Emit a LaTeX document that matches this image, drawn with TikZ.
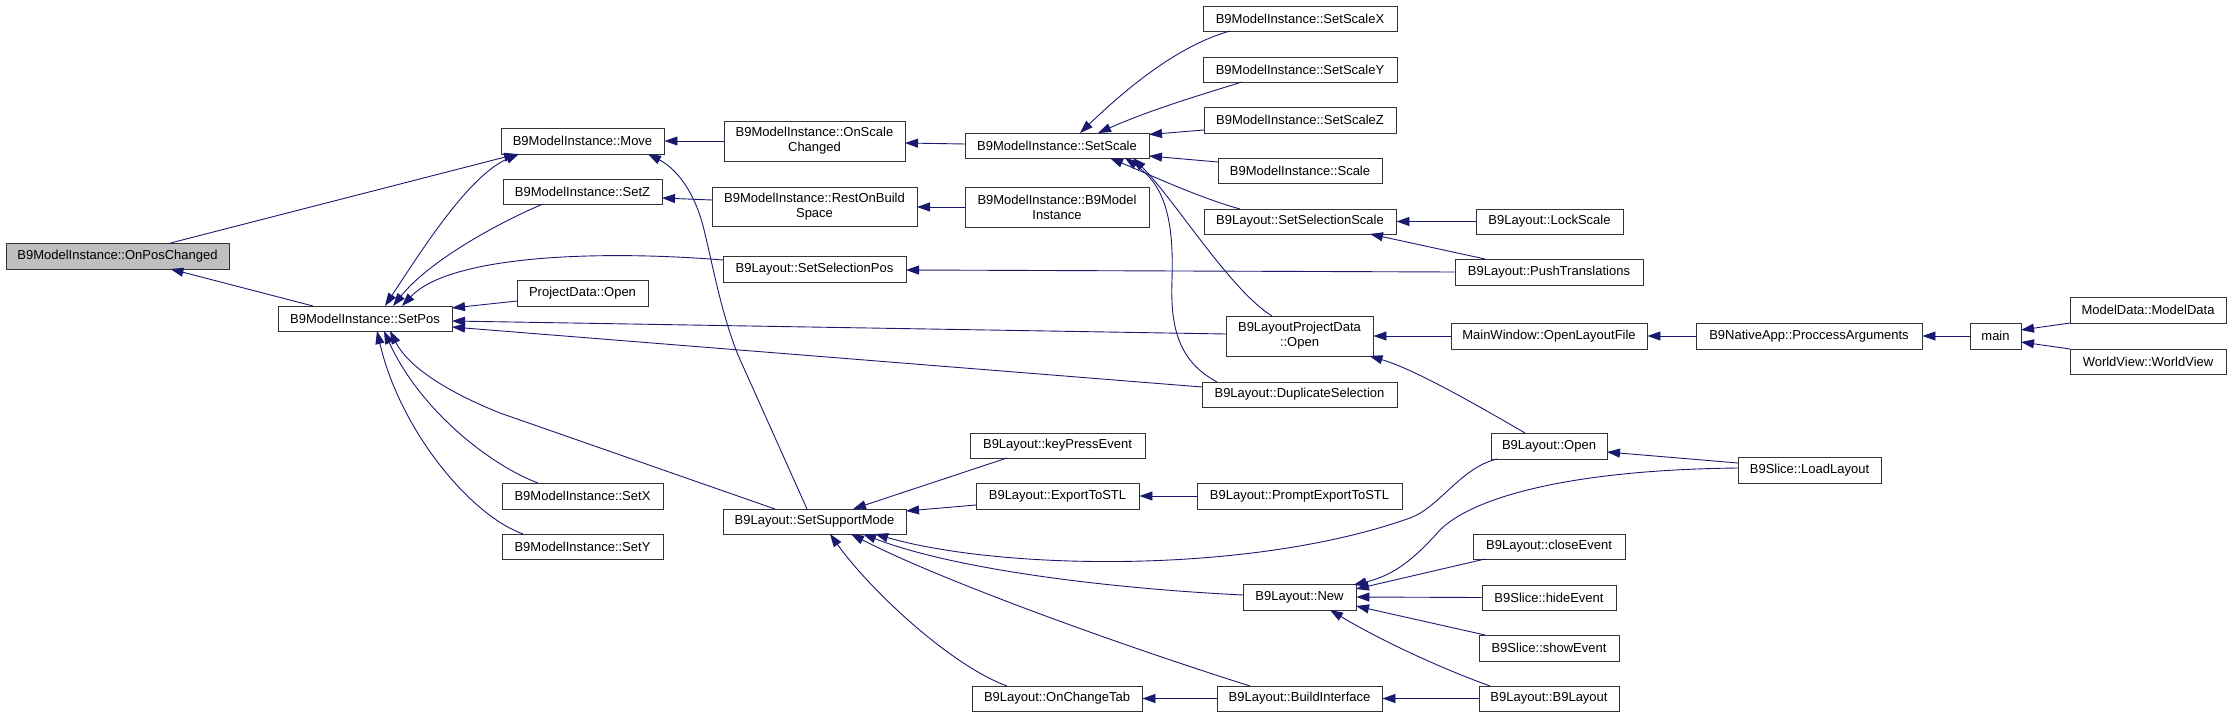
\documentclass[tikz,border=0pt]{standalone}
\usepackage{fontspec}
\setmainfont{Liberation Sans}
\usetikzlibrary{arrows.meta}
\definecolor{edgecol}{HTML}{191970}
\definecolor{grayfill}{HTML}{BFBFBF}
\begin{document}
\begin{tikzpicture}[x=1pt,y=-1pt,
  box/.style={draw=black!80, line width=0.9pt, fill=white, inner sep=0pt, align=center, font=\fontsize{13}{15}\selectfont},
  edge/.style={draw=edgecol, line width=0.9pt, -{Triangle[length=13pt,width=9pt]}},
  bedge/.style={draw=edgecol, line width=0.9pt, {Triangle[length=13pt,width=9pt]}-{Triangle[length=13pt,width=9pt]}}
]
\useasboundingbox (0,0) rectangle (2232,717);

% nodes
\node[box, fill=grayfill, minimum width=223, minimum height=26] (opc) at (117.5,256) {B9ModelInstance::OnPosChanged};
\node[box, minimum width=174, minimum height=25] (setpos) at (365,318.5) {B9ModelInstance::SetPos};
\node[box, minimum width=163, minimum height=26] (move) at (582.5,141) {B9ModelInstance::Move};
\node[box, minimum width=159, minimum height=25] (setz) at (582.5,191.5) {B9ModelInstance::SetZ};
\node[box, minimum width=131, minimum height=26] (projopen) at (582.5,293) {ProjectData::Open};
\node[box, minimum width=161, minimum height=26] (setx) at (582.5,496) {B9ModelInstance::SetX};
\node[box, minimum width=161, minimum height=25] (sety) at (582.5,546.5) {B9ModelInstance::SetY};
\node[box, minimum width=181, minimum height=40] (osc) at (814.5,141) {B9ModelInstance::OnScale\\Changed};
\node[box, minimum width=205, minimum height=39] (rob) at (814.5,206.5) {B9ModelInstance::RestOnBuild\\Space};
\node[box, minimum width=183, minimum height=26] (ssp) at (814.5,269) {B9Layout::SetSelectionPos};
\node[box, minimum width=183, minimum height=25] (ssm) at (814.5,521.5) {B9Layout::SetSupportMode};
\node[box, minimum width=184, minimum height=25] (setscale) at (1057,145.5) {B9ModelInstance::SetScale};
\node[box, minimum width=184, minimum height=40] (ctor) at (1057,207) {B9ModelInstance::B9Model\\Instance};
\node[box, minimum width=175, minimum height=25] (kpe) at (1057.5,445.5) {B9Layout::keyPressEvent};
\node[box, minimum width=163, minimum height=26] (estl) at (1057.5,496) {B9Layout::ExportToSTL};
\node[box, minimum width=170, minimum height=25] (oct) at (1057,698.5) {B9Layout::OnChangeTab};
\node[box, minimum width=194, minimum height=25] (ssx) at (1300,18.5) {B9ModelInstance::SetScaleX};
\node[box, minimum width=194, minimum height=25] (ssy) at (1300,69.5) {B9ModelInstance::SetScaleY};
\node[box, minimum width=192, minimum height=26] (ssz) at (1300,120) {B9ModelInstance::SetScaleZ};
\node[box, minimum width=164, minimum height=25] (scale) at (1300,170.5) {B9ModelInstance::Scale};
\node[box, minimum width=192, minimum height=25] (ssel) at (1300,221.5) {B9Layout::SetSelectionScale};
\node[box, minimum width=147, minimum height=40] (blpd) at (1299.5,336) {B9LayoutProjectData\\::Open};
\node[box, minimum width=195, minimum height=25] (dup) at (1299.5,394.5) {B9Layout::DuplicateSelection};
\node[box, minimum width=205, minimum height=26] (pestl) at (1299.5,496) {B9Layout::PromptExportToSTL};
\node[box, minimum width=113, minimum height=26] (new) at (1299.5,597) {B9Layout::New};
\node[box, minimum width=165, minimum height=25] (bi) at (1299.5,698.5) {B9Layout::BuildInterface};
\node[box, minimum width=147, minimum height=25] (lock) at (1549.5,221.5) {B9Layout::LockScale};
\node[box, minimum width=188, minimum height=26] (push) at (1549,272) {B9Layout::PushTranslations};
\node[box, minimum width=196, minimum height=26] (olf) at (1549,336) {MainWindow::OpenLayoutFile};
\node[box, minimum width=116, minimum height=26] (lopen) at (1549,446) {B9Layout::Open};
\node[box, minimum width=152, minimum height=25] (close) at (1549,546.5) {B9Layout::closeEvent};
\node[box, minimum width=134, minimum height=25] (hide) at (1549,597.5) {B9Slice::hideEvent};
\node[box, minimum width=140, minimum height=26] (show) at (1549,648) {B9Slice::showEvent};
\node[box, minimum width=140, minimum height=25] (lctor) at (1549,698.5) {B9Layout::B9Layout};
\node[box, minimum width=226, minimum height=26] (proc) at (1809,336) {B9NativeApp::ProccessArguments};
\node[box, minimum width=143, minimum height=26] (load) at (1809.5,470) {B9Slice::LoadLayout};
\node[box, minimum width=51, minimum height=26] (main) at (1995.5,336) {main};
\node[box, minimum width=156, minimum height=26] (mdata) at (2148,310) {ModelData::ModelData};
\node[box, minimum width=156, minimum height=25] (wview) at (2148,361.5) {WorldView::WorldView};

% edges (caller -> callee, arrowhead at callee)
\draw[edge] ([shift={(-52,-12.5)}]setpos.center) -- ([shift={(53,13)}]opc.center);
\draw[edge] ([shift={(53,-13)}]opc.center) -- ([shift={(-65.5,13)}]move.center);
\draw[bedge] ([shift={(20,-12.5)}]setpos.center) .. controls (425,245) and (470,175) .. ([shift={(-63.5,13)}]move.center);
\draw[edge] ([shift={(-39.5,12.5)}]setz.center) .. controls (500,222) and (430,260) .. ([shift={(28,-12.5)}]setpos.center);
\draw[edge] ([shift={(-91.5,-9)}]ssp.center) .. controls (600,250) and (450,255) .. ([shift={(37,-12.5)}]setpos.center);
\draw[edge] ([shift={(-65.5,8)}]projopen.center) -- ([shift={(87,-10.5)}]setpos.center);
\draw[edge] ([shift={(-73.5,-2)}]blpd.center) -- ([shift={(87,2.5)}]setpos.center);
\draw[edge] ([shift={(-97.5,-7.5)}]dup.center) -- ([shift={(87,8.5)}]setpos.center);
\draw[edge] ([shift={(-39.5,-12.5)}]ssm.center) -- (500,413) .. controls (455,395) and (410,370) .. ([shift={(25,12.5)}]setpos.center);
\draw[edge] ([shift={(-44.5,-13)}]setx.center) .. controls (490,465) and (420,410) .. ([shift={(19,12.5)}]setpos.center);
\draw[edge] ([shift={(-59.5,-12.5)}]sety.center) .. controls (470,515) and (400,430) .. ([shift={(12,12.5)}]setpos.center);

\draw[edge] (osc.west) -- (move.east);
\draw[edge] ([shift={(-102.5,-6.5)}]rob.center) -- ([shift={(79.5,6.5)}]setz.center);
\draw[edge] ([shift={(-92,-1.5)}]setscale.center) -- ([shift={(90.5,2)}]osc.center);
\draw[edge] (ctor.west) -- ([shift={(102.5,0.5)}]rob.center);
\draw[edge] (push.west) -- ([shift={(91.5,1)}]ssp.center);

\draw[edge] ([shift={(-70,12.5)}]ssx.center) .. controls (1180,45) and (1130,85) .. ([shift={(23,-12.5)}]setscale.center);
\draw[edge] ([shift={(-58,12.5)}]ssy.center) .. controls (1200,95) and (1150,110) .. ([shift={(41,-12.5)}]setscale.center);
\draw[edge] ([shift={(-96,10)}]ssz.center) -- ([shift={(92,-11)}]setscale.center);
\draw[edge] ([shift={(-82,-8.5)}]scale.center) -- ([shift={(92,10.5)}]setscale.center);
\draw[edge] ([shift={(-60,-12.5)}]ssel.center) .. controls (1200,198) and (1150,175) .. ([shift={(53,12.5)}]setscale.center);
\draw[edge] ([shift={(-27.5,-20)}]blpd.center) .. controls (1230,290) and (1175,200) .. ([shift={(76,12.5)}]setscale.center);
\draw[edge] ([shift={(-82.5,-12.5)}]dup.center) .. controls (1180,362) and (1170,330) .. (1172,280) .. controls (1174,220) and (1165,185) .. ([shift={(68,12.5)}]setscale.center);

\draw[edge] (lock.west) -- (ssel.east);
\draw[edge] ([shift={(-64,-13)}]push.center) -- ([shift={(70,12.5)}]ssel.center);
\draw[edge] (olf.west) -- (blpd.east);
\draw[edge] ([shift={(-24,-13)}]lopen.center) .. controls (1460,395) and (1410,368) .. ([shift={(70,20)}]blpd.center);
\draw[edge] (proc.west) -- (olf.east);
\draw[edge] (main.west) -- (proc.east);
\draw[edge] ([shift={(-78,13)}]mdata.center) -- ([shift={(25.5,-6)}]main.center);
\draw[edge] ([shift={(-78,-12.5)}]wview.center) -- ([shift={(25.5,6)}]main.center);

\draw[edge] ([shift={(-7.5,-12.5)}]ssm.center) -- (738,355) .. controls (720,310) and (712,260) .. (702,222) .. controls (692,188) and (675,168) .. ([shift={(65.5,13)}]move.center);
\draw[edge] ([shift={(-50.5,12.5)}]kpe.center) -- ([shift={(38.5,-12.5)}]ssm.center);
\draw[edge] ([shift={(-81.5,9)}]estl.center) -- ([shift={(91.5,-10.5)}]ssm.center);
\draw[edge] (pestl.west) -- (estl.east);
\draw[edge] ([shift={(-52,13)}]lopen.center) .. controls (1460,468) and (1440,507) .. (1410,518) .. controls (1250,575) and (1000,570) .. ([shift={(60.5,12.5)}]ssm.center);
\draw[edge] ([shift={(-56.5,-2)}]new.center) .. controls (1100,588) and (950,568) .. ([shift={(48.5,12.5)}]ssm.center);
\draw[edge] ([shift={(-49.5,-12.5)}]bi.center) .. controls (1120,645) and (940,580) .. ([shift={(36.5,12.5)}]ssm.center);
\draw[edge] ([shift={(-50,-12.5)}]oct.center) .. controls (950,665) and (870,590) .. ([shift={(15.5,12.5)}]ssm.center);
\draw[edge] (bi.west) -- (oct.east);
\draw[edge] (lctor.west) -- (bi.east);

\draw[edge] ([shift={(-71.5,-7)}]load.center) -- ([shift={(58,6)}]lopen.center);
\draw[edge] ([shift={(-71.5,-2)}]load.center) .. controls (1560,470) and (1470,500) .. (1440,530) .. controls (1415,558) and (1395,575) .. ([shift={(54,-12)}]new.center);
\draw[edge] ([shift={(-64,12.5)}]close.center) -- ([shift={(56.5,-8)}]new.center);
\draw[edge] (hide.west) -- (new.east);
\draw[edge] ([shift={(-64,-13)}]show.center) -- ([shift={(56.5,9)}]new.center);
\draw[edge] ([shift={(-59,-12.5)}]lctor.center) .. controls (1440,668) and (1380,640) .. ([shift={(30.5,13)}]new.center);
\end{tikzpicture}
\end{document}
